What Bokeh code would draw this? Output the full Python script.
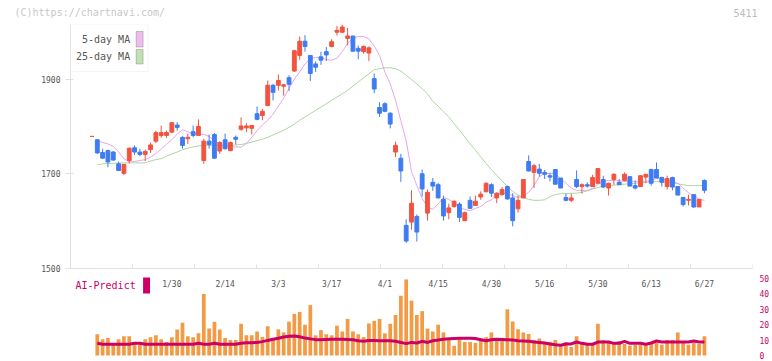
import numpy as np
from bokeh.plotting import figure
from bokeh.layouts import column
from bokeh.models import (Range1d, LinearAxis, FixedTicker, Span, Label,
                          BoxAnnotation, ColumnDataSource)
from bokeh.core.properties import value
from bokeh.embed import file_html
from bokeh.resources import INLINE

# ---------------- data ----------------
open_ = [1779, 1772, 1745, 1749, 1746, 1721, 1701, 1728, 1755, 1746,
         1741, 1751, 1769, 1781, 1781, 1788, 1803, 1777, 1774, 1789,
         1781, 1728, 1769, 1783, 1748, 1772, 1749, 1777, 1794, 1797,
         1796, 1827, 1823, 1844, 1887, 1887, 1885, 1903, 1917, 1950,
         1980, 1950, 1932, 1947, 1958, 1969, 1999, 1999, 1986, 1991,
         1965, 1958, 1955, 1901, 1840, 1848, 1828, 1746, 1733, 1591,
         1598, 1610, 1700, 1617, 1682, 1677, 1646, 1618, 1631, 1636,
         1601, 1644, 1633, 1651, 1662, 1677, 1649, 1656, 1673, 1649,
         1626, 1649, 1726, 1703, 1710, 1703, 1696, 1709, 1691, 1650,
         1644, 1688, 1673, 1677, 1673, 1680, 1688, 1670, 1688, 1682,
         1686, 1694, 1675, 1673, 1693, 1709, 1709, 1692, 1673, 1692,
         1673, 1650, 1644, 1656, 1630, 1686]
high = [1779, 1773, 1753, 1751, 1748, 1726, 1720, 1756, 1760, 1753,
        1751, 1766, 1791, 1802, 1791, 1809, 1809, 1779, 1785, 1802,
        1815, 1774, 1783, 1786, 1769, 1785, 1768, 1781, 1819, 1807,
        1802, 1842, 1837, 1897, 1890, 1910, 1890, 1908, 1962, 1990,
        1993, 1950, 1937, 1958, 1968, 1984, 2012, 2015, 2008, 1991,
        1971, 1971, 1969, 1912, 1851, 1851, 1830, 1768, 1742, 1604,
        1665, 1614, 1709, 1667, 1691, 1681, 1654, 1637, 1644, 1640,
        1620, 1652, 1654, 1663, 1682, 1680, 1661, 1672, 1675, 1659,
        1654, 1688, 1739, 1721, 1721, 1708, 1702, 1709, 1691, 1658,
        1658, 1707, 1680, 1682, 1698, 1711, 1696, 1681, 1701, 1689,
        1703, 1694, 1686, 1696, 1699, 1711, 1724, 1694, 1696, 1694,
        1673, 1650, 1656, 1656, 1646, 1688]
low = [1779, 1742, 1732, 1714, 1728, 1707, 1697, 1722, 1740, 1737,
       1727, 1744, 1765, 1776, 1776, 1787, 1791, 1753, 1763, 1777,
       1781, 1721, 1753, 1732, 1742, 1751, 1748, 1762, 1791, 1788,
       1783, 1813, 1813, 1843, 1855, 1876, 1865, 1875, 1915, 1941,
       1958, 1896, 1915, 1930, 1938, 1967, 1992, 1997, 1971, 1958,
       1942, 1954, 1938, 1870, 1820, 1830, 1796, 1735, 1683, 1554,
       1582, 1557, 1652, 1601, 1664, 1649, 1601, 1604, 1628, 1598,
       1600, 1626, 1633, 1645, 1661, 1651, 1638, 1654, 1645, 1589,
       1618, 1649, 1705, 1670, 1694, 1689, 1684, 1678, 1670, 1642,
       1640, 1670, 1658, 1671, 1673, 1680, 1670, 1654, 1677, 1677,
       1684, 1674, 1667, 1672, 1680, 1675, 1691, 1673, 1667, 1665,
       1655, 1631, 1633, 1628, 1630, 1659]
close = [1779, 1744, 1733, 1725, 1729, 1707, 1720, 1754, 1746, 1741,
         1747, 1761, 1787, 1787, 1787, 1808, 1798, 1760, 1777, 1781,
         1800, 1769, 1762, 1733, 1766, 1753, 1766, 1773, 1801, 1801,
         1802, 1815, 1832, 1887, 1872, 1897, 1888, 1889, 1960, 1980,
         1969, 1912, 1925, 1940, 1951, 1979, 2003, 2010, 1991, 1959,
         1959, 1969, 1966, 1879, 1828, 1832, 1805, 1760, 1706, 1558,
         1638, 1577, 1668, 1661, 1674, 1649, 1611, 1628, 1642, 1608,
         1618, 1627, 1642, 1657, 1680, 1659, 1659, 1667, 1647, 1601,
         1644, 1688, 1706, 1717, 1701, 1699, 1693, 1678, 1670, 1644,
         1649, 1673, 1677, 1674, 1692, 1711, 1672, 1680, 1699, 1677,
         1699, 1674, 1670, 1696, 1699, 1680, 1691, 1682, 1690, 1672,
         1655, 1635, 1646, 1630, 1646, 1665]
ma5 = [np.nan, 1770, 1766, 1763, 1758, 1746, 1732, 1725, 1726, 1728,
       1730, 1735, 1743, 1752, 1762, 1772, 1784, 1793, 1789, 1784,
       1783, 1783, 1779, 1770, 1763, 1756, 1757, 1757, 1756, 1764,
       1777, 1791, 1803, 1813, 1826, 1843, 1860, 1880, 1900, 1915,
       1932, 1943, 1946, 1946, 1941, 1940, 1944, 1958, 1975, 1986,
       1990, 1990, 1985, 1970, 1950, 1915, 1890, 1855, 1812, 1770,
       1705, 1675, 1648, 1630, 1625, 1636, 1650, 1646, 1638, 1630,
       1625, 1622, 1627, 1631, 1640, 1645, 1654, 1659, 1658, 1654,
       1650, 1652, 1661, 1676, 1694, 1700, 1701, 1701, 1690, 1680,
       1670, 1665, 1665, 1665, 1669, 1677, 1684, 1686, 1686, 1685,
       1684, 1684, 1684, 1684, 1684, 1686, 1690, 1688, 1686, 1684,
       1680, 1670, 1660, 1654, 1646, 1644]
ma25 = [np.nan, 1719, 1721, 1722, 1722, 1723, 1723, 1723, 1723, 1723,
        1723, 1727, 1730, 1732, 1737, 1742, 1746, 1751, 1754, 1757,
        1759, 1760, 1760, 1760, 1760, 1760, 1760, 1761, 1762, 1764,
        1767, 1770, 1773, 1777, 1782, 1787, 1792, 1798, 1805, 1813,
        1820, 1827, 1834, 1841, 1848, 1855, 1862, 1869, 1876, 1885,
        1894, 1903, 1911, 1920, 1922, 1924, 1924, 1922, 1917, 1908,
        1899, 1890, 1880, 1869, 1853, 1843, 1831, 1820, 1806, 1792,
        1778, 1763, 1750, 1736, 1722, 1709, 1697, 1685, 1673, 1663,
        1655, 1650, 1646, 1644, 1644, 1645, 1652, 1656, 1658, 1658,
        1659, 1659, 1661, 1664, 1668, 1671, 1674, 1675, 1676, 1677,
        1678, 1679, 1680, 1681, 1682, 1684, 1684, 1683, 1682, 1681,
        1679, 1677, 1675, 1675, 1675, 1675]
volume = [0, 13.8, 10.6, 11.3, 7.5, 10.6, 12.5, 12.5, 7.5, 7.5,
          10.6, 11.9, 13.1, 10.6, 8.8, 11.9, 16.9, 21.3, 12.5, 11.9,
          14.4, 40.0, 17.5, 21.9, 16.9, 11.3, 10.0, 10.0, 20.6, 13.1,
          13.1, 15.6, 12.0, 19.0, 11.0, 17.0, 15.0, 22.0, 27.0, 28.3,
          20.0, 32.7, 13.1, 16.5, 13.8, 13.1, 19.4, 15.6, 23.8, 15.6,
          13.8, 11.9, 20.8, 22.5, 23.8, 14.4, 20.6, 26.3, 38.8, 49.4,
          35.6, 26.3, 28.8, 17.5, 15.6, 20.0, 15.0, 11.3, 6.3, 10.6,
          8.8, 8.8, 8.1, 11.3, 11.9, 15.0, 11.3, 10.0, 30.0, 22.0,
          17.0, 15.0, 14.0, 10.0, 11.0, 9.0, 9.0, 10.0, 7.0, 8.8,
          5.6, 12.5, 8.8, 7.5, 7.5, 20.6, 10.0, 8.1, 8.1, 9.4,
          7.5, 6.3, 6.9, 6.9, 7.5, 8.1, 8.1, 6.9, 10.0, 10.0,
          15.0, 8.8, 6.9, 8.1, 7.5, 12.5]
ai_predict = [np.nan, 7.9, 7.3, 7.3, 7.3, 7.3, 7.3, 7.3, 7.9, 7.9,
              7.3, 7.3, 7.3, 7.3, 7.3, 7.3, 7.3, 7.3, 7.3, 7.3,
              7.9, 7.3, 7.3, 7.9, 7.3, 7.3, 7.3, 7.3, 7.9, 8.3,
              8.3, 8.5, 9.0, 9.8, 10.5, 11.2, 12.0, 12.5, 12.7, 12.2,
              11.3, 10.8, 10.3, 10.2, 10.4, 10.6, 10.6, 10.6, 10.4, 10.2,
              9.6, 9.3, 9.8, 9.7, 9.6, 9.6, 9.6, 9.2, 8.5, 7.7,
              8.5, 8.1, 9.2, 8.5, 9.6, 10.0, 10.6, 10.8, 11.0, 11.2,
              11.25, 11.25, 11.0, 10.2, 9.6, 10.2, 10.6, 10.4, 10.2, 10.0,
              9.6, 9.4, 9.2, 8.8, 8.5, 8.1, 7.5, 7.0, 6.7, 7.5,
              7.5, 8.75, 7.9, 7.3, 7.3, 8.75, 8.75, 8.75, 7.9, 7.9,
              9.2, 7.9, 7.9, 7.9, 7.3, 8.1, 9.4, 8.75, 8.75, 8.75,
              8.75, 8.75, 8.75, 9.4, 8.75, 8.75]
date_idx = [15, 25, 35, 45, 55, 65, 75, 85, 95, 105, 115]
date_text = ["1/30", "2/14", "3/3", "3/17", "4/1", "4/15", "4/30",
             "5/16", "5/30", "6/13", "6/27"]
price_ticks = [1500, 1700, 1900]
ai_ticks = [0, 10, 20, 30, 40, 50]

# ---------------- styling / layout ----------------
RED = "#f2533f"
BLUE = "#3f7cf2"
ORANGE = "#f39a45"
MAGENTA = "#cc0066"
PINK = "#e6a6e6"
GREEN = "#acd6a2"
AXIS = "#e0e0e0"
MONO = "DejaVu Sans Mono"

W = 772
HEAD_H = 24
MAIN_H = 361 - HEAD_H
MB_LEFT, MB_RIGHT = 70, 16
FRAME_W = W - MB_LEFT - MB_RIGHT
PX_IDX = 5.357           # pixels per trading day
PX_PRICE = 0.4735        # pixels per yen
AI_ZERO, AI_FIFTY = 355, 278
PX_AI = (AI_ZERO - AI_FIFTY) / 50.0
X0 = -4.03
X1 = X0 + FRAME_W / PX_IDX

def xd(page_x):          # page pixel -> data x
    return X0 + (page_x - MB_LEFT) / PX_IDX

def py(page_y):          # page pixel -> price
    return 1500 + (268 - page_y) / PX_PRICE

def vy(page_y):          # page pixel -> AI-Predict units
    return (AI_ZERO - page_y) / PX_AI

# ---- header strip (copyright + code) ----
head = figure(width=W, height=HEAD_H, output_backend="svg",
              toolbar_location=None, x_range=Range1d(0, W),
              y_range=Range1d(HEAD_H, 0), x_axis_location=None,
              y_axis_location=None, min_border=0)
head.frame_align = False
head.outline_line_color = None
head.grid.visible = False
head.text(x=[14], y=[12], text=["(C)https://chartnavi.com/"],
          text_font=value(MONO), text_font_size="10px", text_color="#c8c8c8",
          text_align="left", text_baseline="middle")
head.text(x=[757], y=[12], text=["5411"],
          text_font=value(MONO), text_font_size="10px", text_color="#bbbbbb",
          text_align="right", text_baseline="middle")

# ---- main chart ----
p = figure(width=W, height=MAIN_H, output_backend="svg", toolbar_location=None,
           x_range=Range1d(X0, X1), y_range=Range1d(py(361), py(HEAD_H)),
           x_axis_location=None, y_axis_location="left",
           min_border_left=MB_LEFT, min_border_right=MB_RIGHT,
           min_border_top=0, min_border_bottom=0)
p.frame_align = False
p.extra_y_ranges = {"vol": Range1d(vy(361), vy(HEAD_H))}
p.outline_line_color = None
p.grid.visible = False

ya = p.yaxis[0]
ya.ticker = FixedTicker(ticks=price_ticks)
ya.bounds = (1500, py(HEAD_H))
ya.axis_line_color = AXIS
ya.major_tick_line_color = AXIS
ya.minor_tick_line_color = None
ya.major_tick_out = 5
ya.major_tick_in = 3
ya.major_label_standoff = 5
ya.major_label_text_font = MONO
ya.major_label_text_font_size = "8px"
ya.major_label_text_color = "#555555"

ra = LinearAxis(y_range_name="vol", ticker=FixedTicker(ticks=ai_ticks),
                bounds=(0, 50))
ra.axis_line_color = None
ra.major_tick_line_color = None
ra.minor_tick_line_color = None
ra.major_label_standoff = 1
ra.major_label_text_font = MONO
ra.major_label_text_font_size = "8px"
ra.major_label_text_color = MAGENTA
p.add_layout(ra, "right")

idx = np.arange(len(close))
o = np.array(open_, float)
c = np.array(close, float)
colors = [RED if cc >= oo else BLUE for oo, cc in zip(o, c)]
src = ColumnDataSource(dict(x=idx, o=o, c=c, h=high, l=low,
                            top=np.maximum(o, c), bot=np.minimum(o, c),
                            color=colors, vol=volume, ai=ai_predict,
                            ma5=ma5, ma25=ma25))

# volume + AI predict
p.vbar(x="x", top="vol", bottom=0, width=0.7, source=src, y_range_name="vol",
       fill_color=ORANGE, line_color=None)
p.line("x", "ai", source=src, y_range_name="vol", line_color=MAGENTA,
       line_width=3)

# x axis line & ticks of the price panel
p.add_layout(Span(location=1500, dimension="width", line_color=AXIS,
                  line_width=1))
xt = X0 + np.arange(12) * ((X1 - X0) / 11)
p.segment(x0=xt, y0=[1500] * len(xt), x1=xt, y1=[py(264)] * len(xt),
          line_color=AXIS, line_width=1)

# moving averages
p.line("x", "ma25", source=src, line_color=GREEN, line_width=1)
p.line("x", "ma5", source=src, line_color=PINK, line_width=1)

# candles
p.segment(x0="x", y0="h", x1="x", y1="l", source=src, line_color="color",
          line_width=1)
p.vbar(x="x", top="top", bottom="bot", width=0.72, source=src,
       fill_color="color", line_color="color", line_width=1)

# date labels
p.text(x=date_idx, y=[py(284)] * len(date_idx), text=date_text,
       text_font=value(MONO), text_font_size="8px", text_color="#555555",
       text_align="center", text_baseline="middle")

# MA legend
p.add_layout(BoxAnnotation(left=xd(70), right=xd(148), top=py(24),
                           bottom=py(71), fill_color="white", fill_alpha=1,
                           line_color="#dddddd", line_width=1,
                           level="annotation"))
for txt, yc, col, yt, yb in [("5-day MA", 38.5, "#f0bcf0", 31, 46.5),
                             ("25-day MA", 56, "#bfe2b4", 49, 63.5)]:
    p.add_layout(Label(x=xd(130), y=py(yc), text=txt, text_font=MONO,
                       text_font_size="10px", text_color="#555555",
                       text_align="right", text_baseline="middle",
                       level="overlay"))
    p.add_layout(BoxAnnotation(left=xd(136), right=xd(143), top=py(yt),
                               bottom=py(yb), fill_color=col, fill_alpha=1,
                               line_color="#555555", line_width=1,
                               level="overlay"))

# AI-Predict legend
p.add_layout(Label(x=xd(75), y=py(285), text="AI-Predict", text_font=MONO,
                   text_font_size="10px", text_color=MAGENTA,
                   text_align="left", text_baseline="middle"))
p.add_layout(BoxAnnotation(left=xd(143), right=xd(150), top=py(277),
                           bottom=py(293), fill_color=MAGENTA, fill_alpha=1,
                           line_color=None, level="overlay"))

layout = column(head, p, spacing=0)
open("out.html", "w").write(file_html(layout, INLINE))
